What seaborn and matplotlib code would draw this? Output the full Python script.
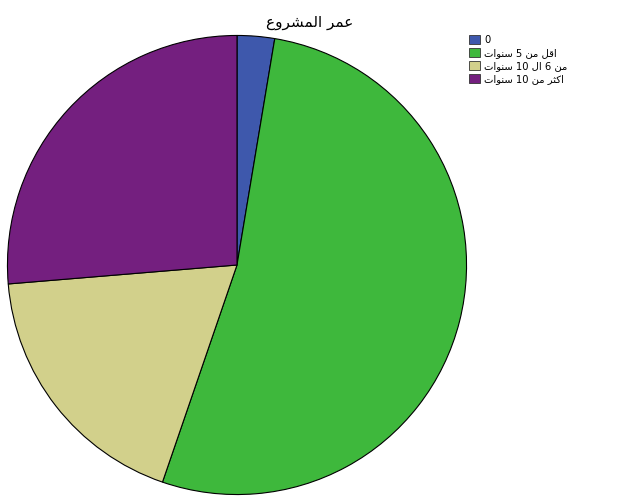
import matplotlib
matplotlib.use("Agg")
import matplotlib.pyplot as plt
import seaborn as sns
from matplotlib.patches import Patch

# datos (n = 38)
categorias = ["0", "اقل من 5 سنوات", "من 6 ال 10 سنوات", "اكثر من 10 سنوات"]
conteos = [1, 20, 7, 10]
colores = ["#3E58AC", "#3EB83C", "#D2D08B", "#741F7F"]
titulo = "عمر المشروع"

# formas de presentacion arabes: (aislada, final, inicial, medial)
FORMAS = {
    "ا": ("\uFE8D", "\uFE8E", None, None),
    "ت": ("\uFE95", "\uFE96", "\uFE97", "\uFE98"),
    "ث": ("\uFE99", "\uFE9A", "\uFE9B", "\uFE9C"),
    "ر": ("\uFEAD", "\uFEAE", None, None),
    "س": ("\uFEB1", "\uFEB2", "\uFEB3", "\uFEB4"),
    "ش": ("\uFEB5", "\uFEB6", "\uFEB7", "\uFEB8"),
    "ع": ("\uFEC9", "\uFECA", "\uFECB", "\uFECC"),
    "ق": ("\uFED5", "\uFED6", "\uFED7", "\uFED8"),
    "ك": ("\uFED9", "\uFEDA", "\uFEDB", "\uFEDC"),
    "ل": ("\uFEDD", "\uFEDE", "\uFEDF", "\uFEE0"),
    "م": ("\uFEE1", "\uFEE2", "\uFEE3", "\uFEE4"),
    "ن": ("\uFEE5", "\uFEE6", "\uFEE7", "\uFEE8"),
    "و": ("\uFEED", "\uFEEE", None, None),
}


def une_sig(c):
    return c in FORMAS and FORMAS[c][2] is not None


def arabe(txt):
    res = []
    for i, c in enumerate(txt):
        if c not in FORMAS:
            res.append(c)
            continue
        prev = txt[i - 1] if i > 0 else ""
        nxt = txt[i + 1] if i + 1 < len(txt) else ""
        con_prev = une_sig(prev)
        con_next = une_sig(c) and nxt in FORMAS
        f = FORMAS[c]
        if con_prev and con_next:
            res.append(f[3])
        elif con_prev:
            res.append(f[1])
        elif con_next:
            res.append(f[2])
        else:
            res.append(f[0])
    vis = "".join(res)[::-1]
    # volver a poner los numeros de izquierda a derecha
    out, num = "", ""
    for c in vis:
        if c.isdigit():
            num += c
        else:
            out += num[::-1] + c
            num = ""
    return out + num[::-1]


sns.set_style("white")
plt.rcParams["font.family"] = ["DejaVu Sans"]
plt.rcParams["text.color"] = "black"

fig = plt.figure(figsize=(6.26, 5.01), dpi=100)
ax = fig.add_axes([7 / 626, 6 / 501, 460 / 626, 460 / 501])
wedges, _ = ax.pie(conteos, colors=colores, startangle=90, counterclock=False,
                   wedgeprops=dict(edgecolor="black", linewidth=0.8))
ax.set_xlim(-1.002, 1.002)
ax.set_ylim(-1.002, 1.002)
ax.axis("off")

fig.text(310 / 626, 1 - 22 / 501, arabe(titulo), ha="center", va="center",
         fontsize=11, color="black")

handles = [Patch(facecolor=c, edgecolor="#333333", linewidth=0.6) for c in colores]
fig.legend(handles, [arabe(t) for t in categorias], loc="upper left",
           bbox_to_anchor=(469 / 626, 1 - 35 / 501), frameon=False, fontsize=7.2,
           handlelength=1.05, handleheight=1.05, handletextpad=0.45,
           labelspacing=0.3, borderpad=0, borderaxespad=0, labelcolor="black")

fig.savefig("out.png", dpi=100)
